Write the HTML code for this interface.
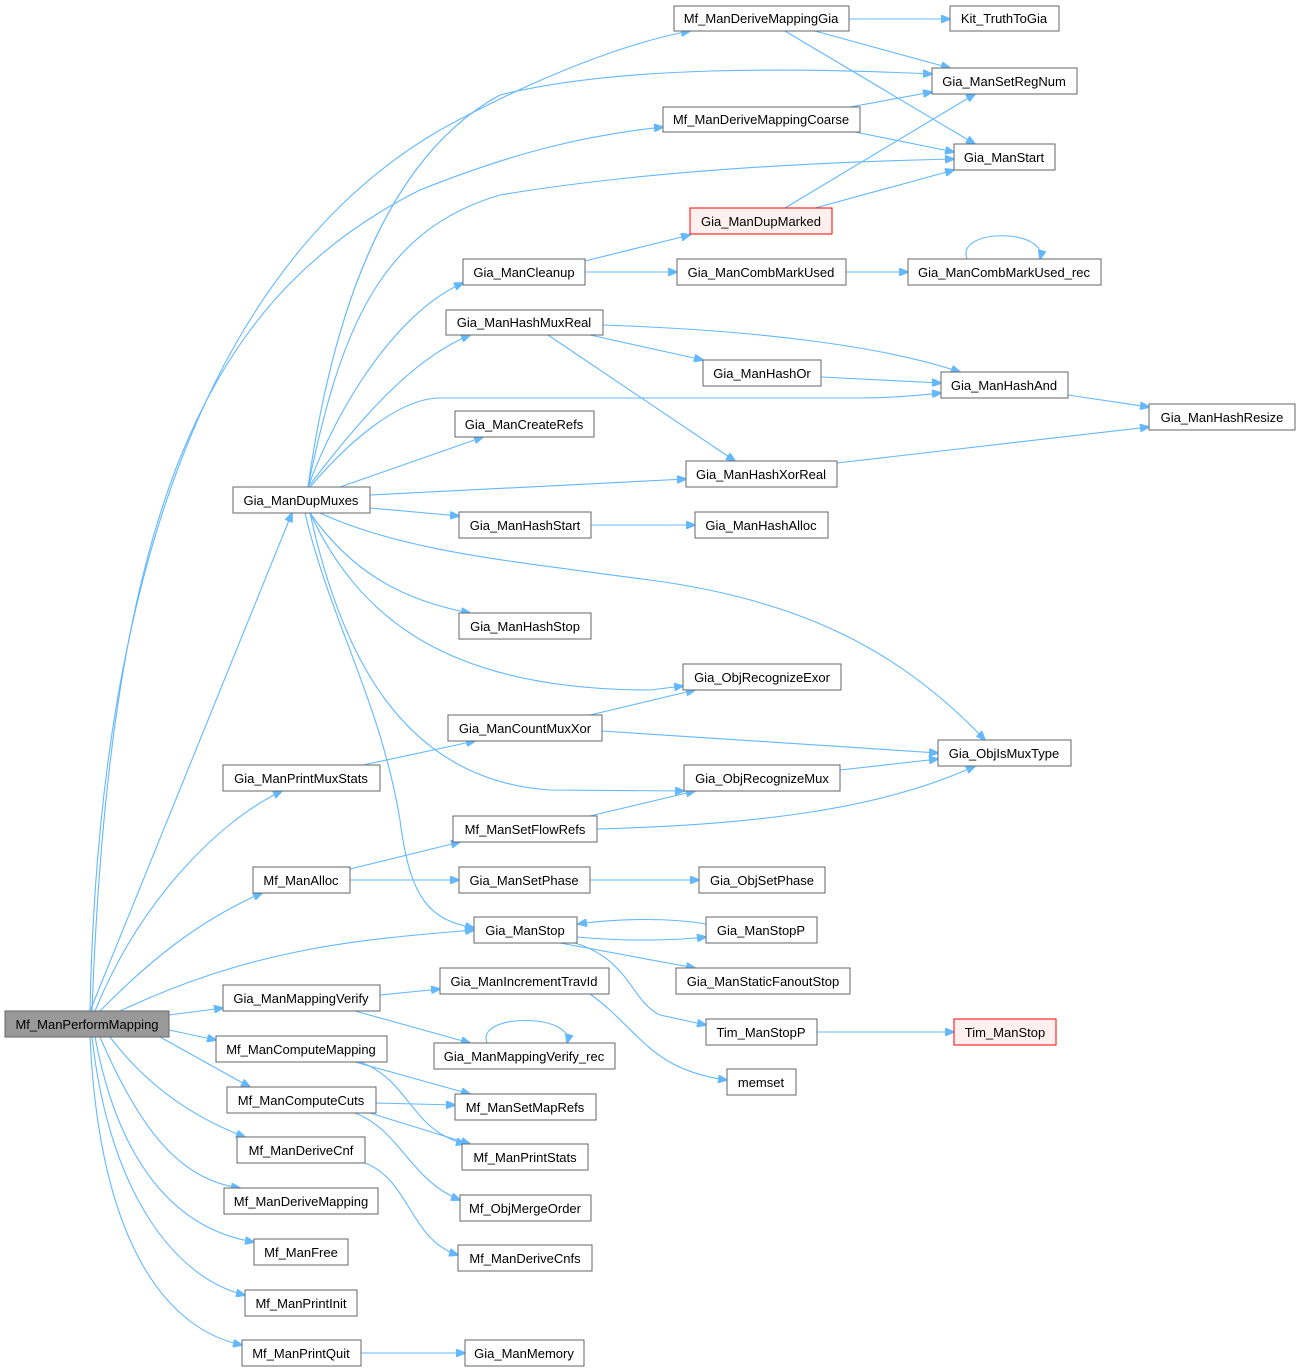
<!DOCTYPE html>
<html><head><meta charset="utf-8"><style>
html,body{margin:0;padding:0;background:#fff;}
svg{display:block;}
text{font-family:"Liberation Sans",Arial,sans-serif;font-size:13px;fill:#000;}
.e{fill:none;stroke:#63b8ff;stroke-width:1.1;marker-end:url(#a);}
.n{fill:#fff;stroke:#666;stroke-width:1;}
</style></head><body>
<svg width="1301" height="1372" viewBox="0 0 1301 1372" xmlns="http://www.w3.org/2000/svg">
<defs><marker id="a" markerWidth="10" markerHeight="8" refX="9" refY="4" orient="auto" markerUnits="userSpaceOnUse"><path d="M0,0 L10,4 L0,8 z" fill="#63b8ff" stroke="#63b8ff"/></marker></defs>
<g>
<path class="e" d="M90,1011 C100,500 250,240 440,130 C540,75 630,42 690,31"/>
<path class="e" d="M92,1011 C110,520 200,300 420,190 C520,150 590,135 663,127"/>
<path class="e" d="M308,487 C330,330 380,160 500,95 C620,65 800,68 932,74"/>
<path class="e" d="M308,487 C340,330 380,230 500,195 C650,170 820,162 954,159"/>
<path class="e" d="M308,487 C340,400 400,310 463,283"/>
<path class="e" d="M308,487 C360,420 410,360 470,335"/>
<path class="e" d="M310,487 C350,440 400,398 440,398 L860,398 C900,398 930,394 941,393"/>
<path class="e" d="M340,487 L483,437"/>
<path class="e" d="M370,495 L686,479"/>
<path class="e" d="M370,508 L459,516"/>
<path class="e" d="M310,513 C350,570 400,600 470,613"/>
<path class="e" d="M310,513 C360,620 450,690 650,690 L683,686"/>
<path class="e" d="M320,513 C400,550 500,560 650,580 C800,600 900,650 985,740"/>
<path class="e" d="M310,513 C340,650 400,780 550,790 L684,791"/>
<path class="e" d="M305,513 C330,620 380,700 400,820 C410,900 430,920 474,928"/>
<path class="e" d="M90,1011 L292,513"/>
<path class="e" d="M95,1011 C140,900 220,820 282,791"/>
<path class="e" d="M100,1011 C150,960 200,920 262,893"/>
<path class="e" d="M120,1011 C250,950 350,940 474,930"/>
<path class="e" d="M169,1015 L223,1008"/>
<path class="e" d="M169,1030 L216,1040"/>
<path class="e" d="M160,1037 L250,1087"/>
<path class="e" d="M110,1037 C150,1090 200,1120 245,1137"/>
<path class="e" d="M100,1037 C140,1130 180,1180 240,1188"/>
<path class="e" d="M95,1037 C120,1170 180,1230 254,1242"/>
<path class="e" d="M92,1037 C110,1200 180,1280 245,1295"/>
<path class="e" d="M90,1037 C100,1250 170,1330 242,1345"/>
<path class="e" d="M849,19 L950,19"/>
<path class="e" d="M815,31 L950,68"/>
<path class="e" d="M785,31 L975,144"/>
<path class="e" d="M850,107 L932,92"/>
<path class="e" d="M855,132 L954,152"/>
<path class="e" d="M785,208 L975,94"/>
<path class="e" d="M815,208 L954,170"/>
<path class="e" d="M585,261 L690,235"/>
<path class="e" d="M585,272 L677,272"/>
<path class="e" d="M846,272 L908,272"/>
<path class="e" d="M967,259 C955,228 1048,228 1040,259"/>
<path class="e" d="M603,325 C750,330 880,345 960,372"/>
<path class="e" d="M590,335 L703,360"/>
<path class="e" d="M548,335 L735,461"/>
<path class="e" d="M821,377 L941,383"/>
<path class="e" d="M1068,395 L1149,407"/>
<path class="e" d="M837,463 L1149,427"/>
<path class="e" d="M591,525 L695,525"/>
<path class="e" d="M590,715 L695,690"/>
<path class="e" d="M602,731 L938,753"/>
<path class="e" d="M363,765 L475,741"/>
<path class="e" d="M840,770 L938,759"/>
<path class="e" d="M590,816 L695,791"/>
<path class="e" d="M597,829 C750,825 880,810 975,766"/>
<path class="e" d="M350,869 L460,842"/>
<path class="e" d="M350,880 L459,880"/>
<path class="e" d="M590,880 L699,880"/>
<path class="e" d="M577,937 C630,942 680,940 706,937"/>
<path class="e" d="M706,924 C670,918 620,918 578,924"/>
<path class="e" d="M560,943 L695,968"/>
<path class="e" d="M575,943 C630,960 630,1000 660,1015 L706,1025"/>
<path class="e" d="M817,1032 L954,1032"/>
<path class="e" d="M380,995 L440,989"/>
<path class="e" d="M355,1011 L470,1043"/>
<path class="e" d="M487,1043 C475,1013 575,1013 567,1043"/>
<path class="e" d="M590,994 C640,1030 650,1070 727,1080"/>
<path class="e" d="M355,1062 L470,1094"/>
<path class="e" d="M360,1062 C410,1080 410,1130 465,1144"/>
<path class="e" d="M376,1103 L455,1105"/>
<path class="e" d="M370,1113 L470,1144"/>
<path class="e" d="M355,1113 C400,1130 410,1180 460,1200"/>
<path class="e" d="M365,1163 C410,1180 410,1240 458,1255"/>
<path class="e" d="M361,1353 L465,1353"/>
</g>
<g text-anchor="middle">
<rect x="5" y="1011" width="164" height="26" fill="#999" stroke="#666"/><text x="87" y="1029">Mf_ManPerformMapping</text>
<rect class="n" x="674" y="6" width="175" height="25"/><text x="761" y="23">Mf_ManDeriveMappingGia</text>
<rect class="n" x="950" y="6" width="109" height="25"/><text x="1004" y="23">Kit_TruthToGia</text>
<rect class="n" x="932" y="68" width="145" height="26"/><text x="1004" y="86">Gia_ManSetRegNum</text>
<rect class="n" x="663" y="107" width="197" height="25"/><text x="761" y="124">Mf_ManDeriveMappingCoarse</text>
<rect class="n" x="954" y="144" width="101" height="26"/><text x="1004" y="162">Gia_ManStart</text>
<rect x="690" y="208" width="142" height="26" fill="#fff0f0" stroke="#ff0000"/><text x="761" y="226">Gia_ManDupMarked</text>
<rect class="n" x="463" y="259" width="122" height="26"/><text x="524" y="277">Gia_ManCleanup</text>
<rect class="n" x="677" y="259" width="169" height="26"/><text x="761" y="277">Gia_ManCombMarkUsed</text>
<rect class="n" x="908" y="259" width="193" height="26"/><text x="1004" y="277">Gia_ManCombMarkUsed_rec</text>
<rect class="n" x="446" y="310" width="157" height="25"/><text x="524" y="327">Gia_ManHashMuxReal</text>
<rect class="n" x="703" y="360" width="118" height="26"/><text x="762" y="378">Gia_ManHashOr</text>
<rect class="n" x="941" y="372" width="127" height="26"/><text x="1004" y="390">Gia_ManHashAnd</text>
<rect class="n" x="1149" y="404" width="146" height="26"/><text x="1222" y="422">Gia_ManHashResize</text>
<rect class="n" x="455" y="411" width="139" height="26"/><text x="524" y="429">Gia_ManCreateRefs</text>
<rect class="n" x="686" y="461" width="151" height="26"/><text x="761" y="479">Gia_ManHashXorReal</text>
<rect class="n" x="233" y="487" width="137" height="26"/><text x="301" y="505">Gia_ManDupMuxes</text>
<rect class="n" x="459" y="512" width="132" height="26"/><text x="525" y="530">Gia_ManHashStart</text>
<rect class="n" x="695" y="512" width="133" height="26"/><text x="761" y="530">Gia_ManHashAlloc</text>
<rect class="n" x="459" y="613" width="132" height="26"/><text x="525" y="631">Gia_ManHashStop</text>
<rect class="n" x="683" y="664" width="158" height="26"/><text x="762" y="682">Gia_ObjRecognizeExor</text>
<rect class="n" x="448" y="715" width="154" height="26"/><text x="525" y="733">Gia_ManCountMuxXor</text>
<rect class="n" x="938" y="740" width="133" height="26"/><text x="1004" y="758">Gia_ObjIsMuxType</text>
<rect class="n" x="223" y="765" width="157" height="26"/><text x="301" y="783">Gia_ManPrintMuxStats</text>
<rect class="n" x="684" y="765" width="156" height="26"/><text x="762" y="783">Gia_ObjRecognizeMux</text>
<rect class="n" x="453" y="816" width="144" height="26"/><text x="525" y="834">Mf_ManSetFlowRefs</text>
<rect class="n" x="253" y="867" width="97" height="26"/><text x="301" y="885">Mf_ManAlloc</text>
<rect class="n" x="459" y="867" width="131" height="26"/><text x="524" y="885">Gia_ManSetPhase</text>
<rect class="n" x="699" y="867" width="126" height="26"/><text x="762" y="885">Gia_ObjSetPhase</text>
<rect class="n" x="474" y="917" width="103" height="26"/><text x="525" y="935">Gia_ManStop</text>
<rect class="n" x="706" y="917" width="111" height="26"/><text x="761" y="935">Gia_ManStopP</text>
<rect class="n" x="676" y="968" width="174" height="26"/><text x="763" y="986">Gia_ManStaticFanoutStop</text>
<rect class="n" x="440" y="968" width="169" height="26"/><text x="524" y="986">Gia_ManIncrementTravId</text>
<rect class="n" x="223" y="985" width="157" height="26"/><text x="301" y="1003">Gia_ManMappingVerify</text>
<rect class="n" x="706" y="1019" width="111" height="26"/><text x="761" y="1037">Tim_ManStopP</text>
<rect x="954" y="1019" width="102" height="26" fill="#fff0f0" stroke="#ff0000"/><text x="1005" y="1037">Tim_ManStop</text>
<rect class="n" x="216" y="1036" width="171" height="26"/><text x="301" y="1054">Mf_ManComputeMapping</text>
<rect class="n" x="434" y="1043" width="181" height="26"/><text x="524" y="1061">Gia_ManMappingVerify_rec</text>
<rect class="n" x="727" y="1069" width="69" height="26"/><text x="761" y="1087">memset</text>
<rect class="n" x="227" y="1087" width="149" height="26"/><text x="301" y="1105">Mf_ManComputeCuts</text>
<rect class="n" x="455" y="1094" width="141" height="26"/><text x="525" y="1112">Mf_ManSetMapRefs</text>
<rect class="n" x="237" y="1137" width="128" height="26"/><text x="301" y="1155">Mf_ManDeriveCnf</text>
<rect class="n" x="462" y="1144" width="126" height="26"/><text x="525" y="1162">Mf_ManPrintStats</text>
<rect class="n" x="224" y="1188" width="154" height="26"/><text x="301" y="1206">Mf_ManDeriveMapping</text>
<rect class="n" x="460" y="1195" width="131" height="26"/><text x="525" y="1213">Mf_ObjMergeOrder</text>
<rect class="n" x="254" y="1239" width="94" height="26"/><text x="301" y="1257">Mf_ManFree</text>
<rect class="n" x="458" y="1245" width="134" height="26"/><text x="525" y="1263">Mf_ManDeriveCnfs</text>
<rect class="n" x="245" y="1290" width="112" height="26"/><text x="301" y="1308">Mf_ManPrintInit</text>
<rect class="n" x="242" y="1340" width="119" height="26"/><text x="301" y="1358">Mf_ManPrintQuit</text>
<rect class="n" x="465" y="1340" width="119" height="26"/><text x="524" y="1358">Gia_ManMemory</text>
</g>
</svg>
</body></html>
